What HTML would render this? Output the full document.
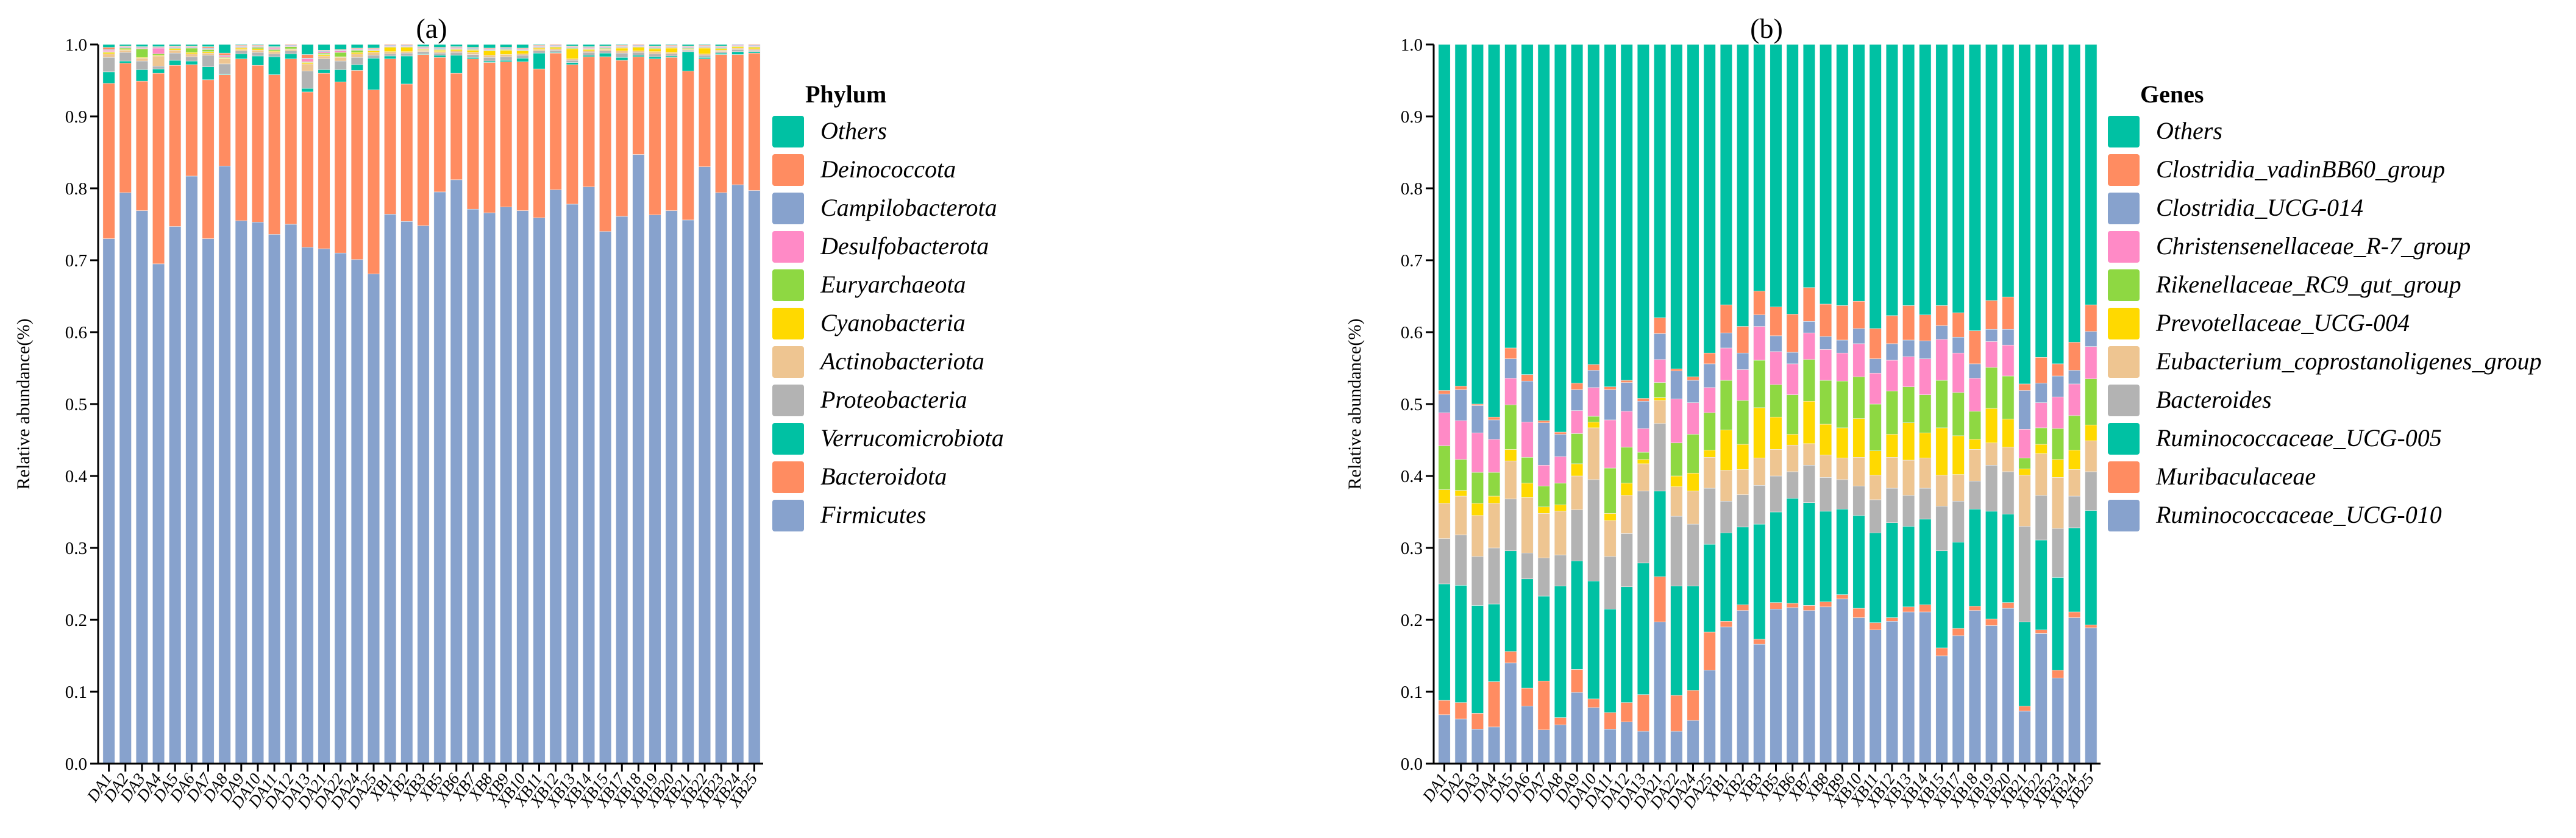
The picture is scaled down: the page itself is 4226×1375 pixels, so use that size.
<!DOCTYPE html>
<html><head><meta charset="utf-8">
<style>
html,body{margin:0;padding:0;background:#fff;}
svg{display:block;font-family:"Liberation Serif","DejaVu Serif",serif;}
</style></head>
<body>
<svg id="chart" width="4226" height="1375" viewBox="0 0 4226 1375" xmlns="http://www.w3.org/2000/svg">
<rect x="0" y="0" width="4226" height="1375" fill="#fff"/>
<g id="panelA"></g>
<g id="panelB"></g>
</svg>
<script>
// ---------- shared data ----------
const samples = ["DA1","DA2","DA3","DA4","DA5","DA6","DA7","DA8","DA9","DA10","DA11","DA12","DA13","DA21","DA22","DA24","DA25","XB1","XB2","XB3","XB5","XB6","XB7","XB8","XB9","XB10","XB11","XB12","XB13","XB14","XB15","XB17","XB18","XB19","XB20","XB21","XB22","XB23","XB24","XB25"];
const yTicks = [0,0.1,0.2,0.3,0.4,0.5,0.6,0.7,0.8,0.9,1.0];
const yTickLabels = ["0.0","0.1","0.2","0.3","0.4","0.5","0.6","0.7","0.8","0.9","1.0"];

// ---------- panel (a) phylum: per-series abundance ----------
const phylumNames = ["Firmicutes","Bacteroidota","Verrucomicrobiota","Proteobacteria","Actinobacteriota","Cyanobacteria","Euryarchaeota","Desulfobacterota","Campilobacterota","Deinococcota"];
const firmicutes = [.73,.794,.769,.695,.747,.817,.73,.831,.755,.753,.736,.75,.718,.716,.71,.701,.681,.764,.754,.748,.795,.812,.771,.766,.774,.769,.759,.798,.778,.802,.74,.761,.847,.763,.769,.756,.83,.794,.805,.797];
const bacteroidota = [.216,.18,.18,.265,.224,.155,.221,.127,.225,.218,.222,.23,.216,.244,.238,.263,.256,.216,.191,.238,.187,.148,.209,.209,.202,.207,.207,.19,.194,.181,.243,.217,.136,.217,.213,.207,.15,.192,.181,.191];
const verrucomicrobiota = [.016,.003,.016,.006,.007,.005,.018,.001,.007,.013,.025,.007,.005,.005,.017,.008,.044,.004,.039,.001,.003,.025,.002,.002,.002,.005,.022,.001,.003,.002,.005,.004,.002,.003,.002,.027,.002,.002,.004,.002];
const proteobacteria = [.02,.012,.012,.004,.01,.006,.016,.014,.004,.005,.004,.004,.024,.015,.012,.01,.004,.003,.004,.003,.003,.004,.004,.005,.005,.004,.003,.003,.003,.004,.003,.006,.004,.004,.003,.002,.003,.002,.003,.002];
const actinobacteriota = [.005,.003,.004,.014,.004,.004,.003,.007,.002,.003,.003,.002,.01,.004,.005,.005,.004,.003,.002,.002,.002,.002,.003,.003,.003,.002,.002,.002,.002,.002,.002,.003,.002,.003,.002,.001,.002,.002,.002,.002];
const cyanobacteria = [.002,.001,.001,.001,.002,.002,.002,.001,.002,.002,.001,.001,.002,.002,.001,.002,.002,.006,.006,.001,.002,.002,.003,.006,.006,.004,.002,.002,.014,.002,.001,.004,.005,.004,.006,.001,.008,.002,.002,.002];
const euryarchaeota = [.001,.002,.012,.002,.001,.006,.003,.001,.001,.002,.002,.003,.001,.002,.006,.003,.001,.001,.001,.001,.001,.001,.001,.001,.001,.001,.001,.001,.001,.001,.001,.001,.001,.001,.001,.001,.001,.001,.001,.001];
const desulfobacterota = [.002,.001,.001,.008,.001,.001,.001,.002,.001,.001,.002,.001,.004,.002,.002,.001,.001,.001,.001,.001,.001,.001,.001,.001,.001,.001,.001,.001,.001,.001,.001,.001,.001,.001,.001,.001,.001,.001,.001,.001];
const campilobacterota = [.001,.001,.001,.001,.001,.001,.001,.001,.001,.001,.001,.001,.001,.001,.001,.001,.001,.001,.001,.001,.001,.001,.001,.001,.001,.001,.001,.001,.001,.001,.001,.001,.001,.001,.001,.001,.001,.001,.001,.001];
const deinococcota = [.003,.001,.001,.001,.001,.001,.002,.003,.001,.001,.001,.001,.005,.001,.001,.001,.001,.001,.001,.001,.001,.001,.001,.001,.001,.001,.001,.001,.001,.001,.001,.001,.001,.001,.001,.001,.001,.001,.001,.001];
const phylumLegend = ["Others","Deinococcota","Campilobacterota","Desulfobacterota","Euryarchaeota","Cyanobacteria","Actinobacteriota","Proteobacteria","Verrucomicrobiota","Bacteroidota","Firmicutes"];

// ---------- panel (b) genes: cumulative top boundary of each stacked series ----------
const ucg010Top = [.068,.062,.048,.051,.14,.08,.047,.054,.099,.078,.048,.058,.045,.197,.045,.06,.13,.19,.213,.166,.215,.217,.213,.218,.229,.203,.186,.198,.211,.211,.15,.178,.213,.192,.216,.073,.181,.119,.203,.189];
const muribaculaceaeTop = [.088,.085,.07,.114,.156,.105,.115,.064,.131,.09,.071,.085,.096,.26,.095,.102,.183,.198,.221,.173,.224,.223,.22,.225,.235,.216,.196,.203,.218,.221,.161,.188,.219,.201,.224,.08,.186,.13,.211,.193];
const ucg005Top = [.25,.248,.22,.222,.296,.257,.233,.247,.282,.254,.215,.246,.279,.379,.247,.247,.305,.321,.329,.333,.35,.369,.363,.351,.354,.345,.321,.335,.33,.34,.296,.308,.354,.351,.347,.197,.311,.259,.328,.352];
const bacteroidesTop = [.313,.318,.288,.3,.368,.293,.286,.29,.353,.395,.288,.32,.379,.473,.344,.333,.383,.365,.374,.387,.4,.406,.415,.398,.395,.386,.367,.383,.373,.383,.358,.365,.393,.415,.406,.33,.373,.327,.372,.406];
const eubacteriumTop = [.362,.372,.345,.362,.421,.37,.348,.351,.4,.467,.338,.373,.417,.505,.385,.379,.426,.408,.409,.425,.437,.443,.445,.429,.425,.426,.401,.426,.422,.425,.401,.402,.437,.446,.44,.401,.431,.398,.409,.449];
const prevotellaceaeTop = [.381,.38,.362,.372,.437,.39,.357,.36,.417,.475,.348,.39,.423,.509,.4,.404,.436,.464,.444,.495,.482,.458,.504,.472,.467,.48,.435,.458,.474,.46,.467,.456,.451,.494,.479,.41,.444,.423,.436,.471];
const rikenellaceaeTop = [.442,.423,.405,.405,.499,.426,.386,.39,.459,.483,.411,.44,.433,.53,.446,.458,.488,.533,.505,.561,.527,.513,.562,.533,.532,.538,.5,.518,.524,.513,.533,.516,.49,.551,.539,.425,.467,.466,.484,.535];
const christensenellaceaeTop = [.488,.477,.46,.451,.536,.475,.415,.427,.491,.523,.478,.49,.466,.562,.507,.502,.523,.578,.548,.608,.573,.556,.599,.576,.571,.584,.543,.561,.566,.563,.59,.571,.536,.587,.582,.465,.502,.51,.528,.58];
const clostridiaUcg014Top = [.514,.52,.498,.478,.563,.532,.474,.458,.52,.547,.52,.53,.504,.598,.546,.533,.556,.599,.571,.624,.595,.572,.615,.594,.589,.605,.563,.584,.589,.588,.609,.593,.556,.604,.604,.519,.529,.539,.547,.601];
const vadinBB60Top = [.519,.525,.5,.482,.578,.541,.477,.461,.529,.555,.524,.533,.508,.62,.549,.538,.571,.638,.608,.657,.635,.625,.662,.639,.637,.643,.605,.623,.637,.624,.637,.627,.602,.644,.649,.528,.565,.556,.586,.638];
const othersTop = [1,1,1,1,1,1,1,1,1,1,1,1,1,1,1,1,1,1,1,1,1,1,1,1,1,1,1,1,1,1,1,1,1,1,1,1,1,1,1,1];
const genesLegend = ["Others","Clostridia_vadinBB60_group","Clostridia_UCG-014","Christensenellaceae_R-7_group","Rikenellaceae_RC9_gut_group","Prevotellaceae_UCG-004","Eubacterium_coprostanoligenes_group","Bacteroides","Ruminococcaceae_UCG-005","Muribaculaceae","Ruminococcaceae_UCG-010"];

// ---------- styling ----------
const C = {teal:"#00C1A3",orange:"#FF8C61",blue:"#87A2CD",pink:"#FF8AC6",green:"#8ED842",yellow:"#FFD900",tan:"#EEC591",gray:"#B3B3B3"};
const stackColors = [C.blue,C.orange,C.teal,C.gray,C.tan,C.yellow,C.green,C.pink,C.blue,C.orange,C.teal]; // bottom -> top
const NS = "http://www.w3.org/2000/svg";
function mk(tag, attrs, parent){const e=document.createElementNS(NS,tag);for(const k in attrs)e.setAttribute(k,attrs[k]);parent.appendChild(e);return e;}

function drawPanel(g, cfg, stacks, legendNames){
  const yScale = v => cfg.y0 - v*(cfg.y0-cfg.y1);
  const xCenter = i => cfg.firstX + i*cfg.step;
  // bars
  samples.forEach((s,i)=>{
    const bg = mk("g",{},g);
    
    
    let prev = 0;
    stacks.forEach((topArr,k)=>{
      const top = topArr[i];
      const yTop = yScale(top), yBot = yScale(prev);
      if (yBot - yTop > 0) {
        const r = mk("rect",{x:(xCenter(i)-cfg.barW/2).toFixed(2),y:yTop.toFixed(2),width:cfg.barW,height:(yBot-yTop).toFixed(2),fill:stackColors[k],stroke:"#f2f2f2","stroke-width":0.6},bg);
        
        
      }
      prev = top;
    });
  });
  // axes
  const ax = mk("line",{x1:cfg.axisX,y1:cfg.y1,x2:cfg.axisX,y2:cfg.y0+1.5,stroke:"#000","stroke-width":3},g);
  
  
  const bx = mk("line",{x1:cfg.axisX-13,y1:cfg.y0,x2:cfg.axisEnd,y2:cfg.y0,stroke:"#000","stroke-width":3},g);
  
  
  yTicks.forEach((v,i)=>{
    const y = yScale(v);
    const t = mk("line",{x1:cfg.axisX-13,y1:y,x2:cfg.axisX,y2:y,stroke:"#000","stroke-width":3},g);
    
    
    const l = mk("text",{x:cfg.axisX-18,y:y+10,"text-anchor":"end","font-size":29,fill:"#000"},g);
    l.textContent = yTickLabels[i];
    
    
  });
  samples.forEach((s,i)=>{
    const x = xCenter(i);
    const t = mk("line",{x1:x,y1:cfg.y0,x2:x,y2:cfg.y0+13,stroke:"#000","stroke-width":3},g);
    
    
    const l = mk("text",{x:x+6,y:cfg.y0+24,"text-anchor":"end","font-size":27,"font-style":"italic",fill:"#000",transform:`rotate(-55 ${x+6} ${cfg.y0+24})`},g);
    l.textContent = s;
    
    
  });
  // y title
  const yt = mk("text",{x:cfg.yTitleX,y:(cfg.y0+cfg.y1)/2,"text-anchor":"middle","font-size":30,fill:"#000",transform:`rotate(-90 ${cfg.yTitleX} ${(cfg.y0+cfg.y1)/2})`},g);
  yt.textContent = "Relative abundance(%)";
  
  
  // panel title
  const pt = mk("text",{x:cfg.titleX,y:62,"text-anchor":"middle","font-size":46,fill:"#000"},g);
  pt.textContent = cfg.title;
  
  
  // legend
  const lg = mk("g",{},g);
  
  
  const lt = mk("text",{x:cfg.legTitleX,y:168,"font-size":40,"font-weight":"bold",fill:"#000"},lg);
  lt.textContent = cfg.legTitle;
  
  
  legendNames.forEach((n,j)=>{
    const y = 190 + j*63;
    const e = mk("g",{},lg);
    
    
    mk("rect",{x:cfg.legX,y:y,width:52,height:52,rx:4,fill:stackColors[stackColors.length-1-j]},e);
    const tx = mk("text",{x:cfg.legX+79,y:y+38,"font-size":40,"font-style":"italic",fill:"#000"},e);
    tx.textContent = n;
    
    
  });
}

// phylum stack tops computed from series abundances
const phylumSeries = [firmicutes,bacteroidota,verrucomicrobiota,proteobacteria,actinobacteriota,cyanobacteria,euryarchaeota,desulfobacterota,campilobacterota,deinococcota];
const phylumStacks = [];
let acc = samples.map(()=>0);
phylumSeries.forEach(arr=>{acc = acc.map((a,i)=>Math.min(1,a+arr[i])); phylumStacks.push(acc.slice());});
phylumStacks.push(samples.map(()=>1));

drawPanel(document.getElementById("panelA"),
  {y0:1253,y1:73,axisX:161,axisEnd:1252,firstX:178.6,step:27.15,barW:19.5,yTitleX:48,titleX:708,title:"(a)",legTitle:"Phylum",legTitleX:1321,legX:1267},
  phylumStacks, phylumLegend);

drawPanel(document.getElementById("panelB"),
  {y0:1253,y1:73,axisX:2352,axisEnd:3446,firstX:2369.5,step:27.2,barW:19.5,yTitleX:2232,titleX:2898,title:"(b)",legTitle:"Genes",legTitleX:3511,legX:3458},
  [ucg010Top,muribaculaceaeTop,ucg005Top,bacteroidesTop,eubacteriumTop,prevotellaceaeTop,rikenellaceaeTop,christensenellaceaeTop,clostridiaUcg014Top,vadinBB60Top,othersTop], genesLegend);
</script>
</body></html>
